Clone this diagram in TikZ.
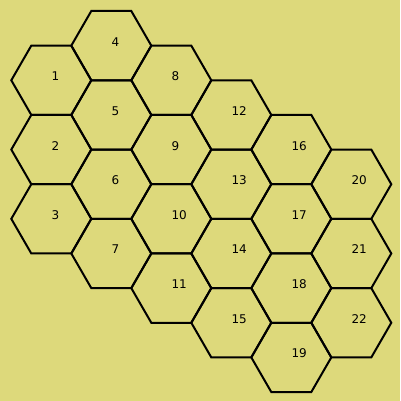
\documentclass[tikz,border=0pt]{standalone}
\usepackage{fontspec}
\setmainfont{DejaVu Sans}
\usetikzlibrary{shapes.geometric}
\definecolor{boardbg}{RGB}{221,217,123}

\begin{document}
\begin{tikzpicture}[x=1pt, y=-1pt, hexcell/.style={regular polygon, regular polygon sides=6, minimum size=80pt, inner sep=0pt, draw=black, line width=2pt}, numlab/.style={anchor=base west, inner sep=0pt, font=\fontsize{12}{14}\selectfont}]
					\fill[boardbg] (0,0) rectangle (400,401);
					\useasboundingbox (0,0) rectangle (400,401);
					
					\node[hexcell] (h1) at (51.3,80.28){};
					\node[hexcell] (h2) at (51.3,149.56){};
					\node[hexcell] (h3) at (51.3,218.84){};
					\node[hexcell] (h4) at (111.3,45.64){};
					\node[hexcell] (h5) at (111.3,114.92){};
					\node[hexcell] (h6) at (111.3,184.2){};
					\node[hexcell] (h7) at (111.3,253.48){};
					\node[hexcell] (h8) at (171.3,80.28){};
					\node[hexcell] (h9) at (171.3,149.56){};
					\node[hexcell] (h10) at (171.3,218.84){};
					\node[hexcell] (h11) at (171.3,288.12){};
					\node[hexcell] (h12) at (231.3,114.92){};
					\node[hexcell] (h13) at (231.3,184.2){};
					\node[hexcell] (h14) at (231.3,253.48){};
					\node[hexcell] (h15) at (231.3,322.76){};
					\node[hexcell] (h16) at (291.3,149.56){};
					\node[hexcell] (h17) at (291.3,218.84){};
					\node[hexcell] (h18) at (291.3,288.12){};
					\node[hexcell] (h19) at (291.3,357.4){};
					\node[hexcell] (h20) at (351.3,184.2){};
					\node[hexcell] (h21) at (351.3,253.48){};
					\node[hexcell] (h22) at (351.3,322.76){};
					
					\node[numlab] (n1) at ([yshift=-0.5pt]h1.center){1};
					\node[numlab] (n2) at ([yshift=-0.5pt]h2.center){2};
					\node[numlab] (n3) at ([yshift=-0.5pt]h3.center){3};
					\node[numlab] (n4) at ([yshift=-0.5pt]h4.center){4};
					\node[numlab] (n5) at ([yshift=-0.5pt]h5.center){5};
					\node[numlab] (n6) at ([yshift=-0.5pt]h6.center){6};
					\node[numlab] (n7) at ([yshift=-0.5pt]h7.center){7};
					\node[numlab] (n8) at ([yshift=-0.5pt]h8.center){8};
					\node[numlab] (n9) at ([yshift=-0.5pt]h9.center){9};
					\node[numlab] (n10) at ([yshift=-0.5pt]h10.center){10};
					\node[numlab] (n11) at ([yshift=-0.5pt]h11.center){11};
					\node[numlab] (n12) at ([yshift=-0.5pt]h12.center){12};
					\node[numlab] (n13) at ([yshift=-0.5pt]h13.center){13};
					\node[numlab] (n14) at ([yshift=-0.5pt]h14.center){14};
					\node[numlab] (n15) at ([yshift=-0.5pt]h15.center){15};
					\node[numlab] (n16) at ([yshift=-0.5pt]h16.center){16};
					\node[numlab] (n17) at ([yshift=-0.5pt]h17.center){17};
					\node[numlab] (n18) at ([yshift=-0.5pt]h18.center){18};
					\node[numlab] (n19) at ([yshift=-0.5pt]h19.center){19};
					\node[numlab] (n20) at ([yshift=-0.5pt]h20.center){20};
					\node[numlab] (n21) at ([yshift=-0.5pt]h21.center){21};
					\node[numlab] (n22) at ([yshift=-0.5pt]h22.center){22};
					\end{tikzpicture}
\end{document}
